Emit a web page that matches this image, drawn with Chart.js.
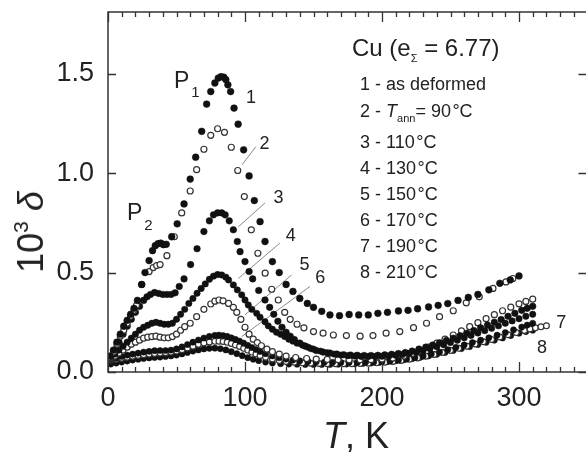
<!DOCTYPE html>
<html><head><meta charset="utf-8">
<script src="https://cdn.jsdelivr.net/npm/chart.js@4.4.0/dist/chart.umd.min.js"></script>
<style>
html,body{margin:0;padding:0;width:586px;height:452px;overflow:hidden;background:#fff;}
#wrap{position:relative;width:586px;height:452px;overflow:hidden;}
canvas{position:absolute;left:0;top:0;}
.t{position:absolute;font-family:"Liberation Sans",Arial,sans-serif;color:#222;white-space:nowrap;line-height:1;}
.lg{font-size:18px;left:360px;}
.sb{font-size:11px;position:relative;top:5px;}
.num{font-size:18px;}
</style></head><body>
<div id="wrap">
<canvas id="c" width="600" height="452" style="width:600px;height:452px"></canvas>
<div class="t" style="font-size:24px;left:352px;top:36.2px">Cu (e<span style="font-size:11px;position:relative;top:6px">Σ</span> = 6.77)</div>
<div class="t lg" style="top:75.2px">1 - as deformed</div>
<div class="t lg" style="top:102.2px">2 - <i>T</i><span class="sb">ann</span>= 90&#8202;°C</div>
<div class="t lg" style="top:133.2px">3 - 110&#8202;°C</div>
<div class="t lg" style="top:159.2px">4 - 130&#8202;°C</div>
<div class="t lg" style="top:185.2px">5 - 150&#8202;°C</div>
<div class="t lg" style="top:211.2px">6 - 170&#8202;°C</div>
<div class="t lg" style="top:237.2px">7 - 190&#8202;°C</div>
<div class="t lg" style="top:263.2px">8 - 210&#8202;°C</div>
<div class="t" style="font-size:23px;left:174px;top:68.7px">P<span style="font-size:15px;position:relative;top:9px;margin-left:2px">1</span></div>
<div class="t" style="font-size:23px;left:127px;top:201.2px">P<span style="font-size:15px;position:relative;top:10px;margin-left:2px">2</span></div>
<div class="t num" style="left:246px;top:88.2px">1</div>
<div class="t num" style="left:259.6px;top:133.9px">2</div>
<div class="t num" style="left:273.4px;top:187.9px">3</div>
<div class="t num" style="left:285.7px;top:225.5px">4</div>
<div class="t num" style="left:299.6px;top:254.5px">5</div>
<div class="t num" style="left:315.3px;top:267.9px">6</div>
<div class="t num" style="left:556.3px;top:312.9px">7</div>
<div class="t num" style="left:536.9px;top:337.9px">8</div>
<div class="t" style="font-size:36px;left:356px;top:436px;transform:translate(-50%,-50%)"><i>T</i>, K</div>
<div class="t" style="font-size:36px;left:31px;top:232px;transform:translate(-50%,-50%) rotate(-90deg)">10<span style="font-size:21px;position:relative;top:-15px">3</span> <i>δ</i></div>
</div>
<script>
// Temperature T (K) and 10^3 delta for curves 1..8
const t1 = [1.5,4,6.5,9,11.5,14,16.5,19,21.5,24.6,27,30,32.5,34.5,36.5,38.5,40.5,42.5,46.5,50.5,55.5,60,64,68.4,72,75,78,80.5,82.5,84.5,86,87.5,89.5,92,95,99,103,106.8,111,114.6,120,125,130,135,140,145.5,150,156,162,169,176,183,190,197,204,212,219,226,234,241,248,255.5,263,270,278,286,293.6,300];
const d1 = [0.08,0.11,0.15,0.19,0.23,0.26,0.29,0.32,0.36,0.44,0.50,0.56,0.61,0.635,0.645,0.648,0.64,0.642,0.68,0.745,0.845,0.97,1.08,1.21,1.347,1.41,1.453,1.478,1.485,1.482,1.47,1.444,1.41,1.327,1.246,1.117,0.986,0.862,0.756,0.656,0.555,0.50,0.44,0.405,0.37,0.345,0.325,0.305,0.287,0.283,0.289,0.287,0.287,0.295,0.30,0.307,0.31,0.318,0.327,0.335,0.344,0.36,0.375,0.39,0.413,0.446,0.463,0.483];

const t2 = [1.5,4,6.5,9,11.5,14,16.5,19,20.8,24.6,30,33,35.5,38,43,48.4,53.8,60,64.7,70,75,80,85,90,94.7,99.5,104.6,109.4,114.7,119.5,124.3,129,133,138,143,150,157,164.5,174,184,193.4,203,213,223,232.5,242,252,261.5,271,281,290.5,295.5];
const d2 = [0.075,0.1,0.14,0.18,0.21,0.245,0.28,0.31,0.335,0.44,0.505,0.525,0.535,0.54,0.585,0.68,0.80,0.91,1.017,1.12,1.19,1.223,1.205,1.13,1.013,0.882,0.715,0.597,0.497,0.416,0.362,0.30,0.265,0.24,0.222,0.203,0.195,0.186,0.183,0.18,0.183,0.195,0.203,0.223,0.245,0.278,0.308,0.348,0.378,0.42,0.453,0.47];

const t3 = [2,5,8,11,14,17,20,23,26,28.5,31,34,37,40,43,46,49,52,55.5,60.3,65,70,74,77,80,83,85.5,88.5,91.5,94.4,96.4,100,103,105.6,110,114.6,118,121,124,127,130,133,136,140,144,148,152,157,162,167,172,177,182,187,192,197,202,207,212,217,222,227,232,237,242,247,252,257,262,267,272,277,282,287,292,297,302,306,310];
const d3 = [0.08,0.11,0.15,0.19,0.23,0.265,0.30,0.33,0.36,0.378,0.39,0.40,0.395,0.39,0.39,0.39,0.398,0.43,0.468,0.54,0.62,0.706,0.76,0.79,0.80,0.80,0.79,0.76,0.715,0.656,0.605,0.555,0.505,0.468,0.41,0.362,0.325,0.29,0.255,0.225,0.20,0.18,0.163,0.145,0.13,0.118,0.108,0.10,0.095,0.09,0.087,0.085,0.084,0.083,0.083,0.084,0.086,0.089,0.093,0.098,0.105,0.115,0.125,0.135,0.147,0.158,0.17,0.182,0.195,0.208,0.222,0.236,0.25,0.264,0.28,0.295,0.31,0.32,0.33];

const t4 = [2,5,8,11,14,17,20,23,26,29,32,35,38,41,44,47,50,53,56,59,62,65,68,71,74,77,80,83,86,88,91.5,94.4,97.6,100,102.4,105,108.5,111,114.6,117,120,123,126,129,132,135,138,142,146,150,155,160,165,170,175,180,185,190,195,200,205,210,215,220,225,230,235,240,245,250,255,260,265,270,275,280,285,290,295,300,305,310];
const d4 = [0.075,0.09,0.11,0.13,0.15,0.17,0.19,0.21,0.225,0.235,0.245,0.25,0.245,0.24,0.24,0.245,0.265,0.29,0.315,0.345,0.37,0.396,0.42,0.443,0.466,0.482,0.49,0.488,0.477,0.463,0.438,0.413,0.388,0.362,0.337,0.315,0.295,0.275,0.253,0.232,0.215,0.2,0.19,0.178,0.165,0.155,0.145,0.135,0.125,0.115,0.105,0.097,0.09,0.085,0.082,0.08,0.078,0.078,0.078,0.079,0.081,0.084,0.088,0.094,0.1,0.108,0.117,0.127,0.137,0.148,0.16,0.172,0.184,0.196,0.208,0.22,0.232,0.245,0.257,0.268,0.28,0.29];

const t5 = [2,5,8,11,14,17,20,23,26,29,32,35,38,41,44,47,50,53,56,60,64.7,70,75,78,81,84,88,91.5,94,97,100,103,106,109,112,116,120,125,130,137,145,152,160,168,176,184,192,200,208,216,222,228,234,240,246,252,258,264,270,276,282,288,294,300,305,310];
const d5 = [0.07,0.08,0.095,0.11,0.125,0.14,0.15,0.16,0.17,0.175,0.178,0.18,0.175,0.172,0.172,0.178,0.19,0.21,0.228,0.245,0.278,0.315,0.342,0.356,0.362,0.358,0.345,0.325,0.3,0.265,0.225,0.19,0.165,0.148,0.132,0.115,0.102,0.09,0.08,0.073,0.068,0.065,0.063,0.062,0.061,0.061,0.062,0.065,0.07,0.08,0.093,0.108,0.125,0.145,0.165,0.186,0.207,0.228,0.248,0.268,0.288,0.308,0.326,0.343,0.355,0.366];

const t6 = [2,6,10,14,18,22,26,30,34,38,42,46,50,54,58,62,66,70,74,78,81,84,87,90,93,96,99,102,105,108,111,115,120,125,130,135,140,146,152,158,164,170,176,182,188,194,200,206,212,218,224,230,236,242,248,254,260,266,272,278,284,290,296,302,306,310];
const d6 = [0.065,0.07,0.078,0.085,0.09,0.095,0.1,0.104,0.107,0.108,0.108,0.11,0.116,0.126,0.138,0.15,0.161,0.171,0.179,0.184,0.185,0.183,0.179,0.172,0.164,0.155,0.145,0.134,0.123,0.113,0.103,0.092,0.081,0.072,0.065,0.06,0.056,0.053,0.051,0.05,0.049,0.048,0.048,0.048,0.049,0.05,0.052,0.055,0.059,0.065,0.072,0.08,0.09,0.1,0.112,0.124,0.136,0.148,0.16,0.172,0.185,0.198,0.212,0.226,0.236,0.245];

const t7 = [2,6,10,14,18,22,26,30,34,38,42,46,50,54,58,62,66,70,74,78,81,84,87,90,93,96,99,102,105,108,111,115,120,125,130,136,142,148,154,160,166,172,178,184,190,196,202,208,214,220,226,232,238,244,250,256,262,268,274,280,286,292,298,304,308,312,316,320];
const d7 = [0.06,0.064,0.069,0.074,0.079,0.083,0.087,0.09,0.093,0.095,0.097,0.1,0.105,0.112,0.121,0.13,0.139,0.146,0.151,0.154,0.155,0.153,0.149,0.143,0.136,0.128,0.119,0.11,0.1,0.091,0.083,0.074,0.065,0.058,0.053,0.049,0.046,0.044,0.043,0.042,0.042,0.042,0.042,0.043,0.044,0.046,0.049,0.053,0.058,0.064,0.071,0.079,0.088,0.098,0.108,0.119,0.13,0.141,0.152,0.164,0.176,0.187,0.198,0.209,0.216,0.222,0.227,0.232];

const t8 = [2,6,10,14,18,22,26,30,34,38,42,46,50,54,58,62,66,70,74,78,82,86,90,94,98,102,106,110,115,120,126,132,138,144,150,156,162,168,174,180,186,192,198,204,210,216,222,228,234,240,246,252,258,264,270,276,282,288,294,300,305,310];
const d8 = [0.04,0.045,0.05,0.055,0.06,0.064,0.068,0.071,0.073,0.075,0.078,0.081,0.085,0.091,0.098,0.105,0.111,0.116,0.119,0.12,0.117,0.111,0.102,0.092,0.082,0.072,0.064,0.057,0.05,0.045,0.042,0.04,0.039,0.038,0.038,0.038,0.038,0.039,0.04,0.041,0.043,0.045,0.048,0.052,0.056,0.061,0.067,0.074,0.081,0.089,0.098,0.108,0.118,0.128,0.138,0.149,0.16,0.171,0.183,0.195,0.203,0.21];

// leader lines from curve numbers 2..6 (T, 10^3 delta)
const leadT = [[97.9,108],[95.1,114.6],[95.1,125.5],[100,134],[97.6,147.4]];
const leadD = [[1.042,1.134],[0.73,0.85],[0.47,0.648],[0.287,0.488],[0.178,0.43]];

const xTicks = [0,100,200,300];
const yTicks = [0,0.5,1.0,1.5];

const FONT = '"Liberation Sans", Arial, sans-serif';
const pts = (t,d) => t.map((x,i)=>({x:x,y:d[i]}));
const filled = (t,d,r) => ({data:pts(t,d),showLine:false,pointRadius:r,pointHoverRadius:r,pointBackgroundColor:'#111',pointBorderColor:'#111',pointBorderWidth:0.5});
const open = (t,d,r) => ({data:pts(t,d),showLine:false,pointRadius:r,pointHoverRadius:r,pointBackgroundColor:'#fff',pointBorderColor:'#333',pointBorderWidth:1.2});

const datasets = [
  filled(t1,d1,3.4), open(t2,d2,3.0), filled(t3,d3,3.3), filled(t4,d4,3.2),
  open(t5,d5,3.0), filled(t6,d6,3.1), open(t7,d7,2.9), filled(t8,d8,3.1)
];
leadT.forEach((lt,i)=>{
  datasets.push({data:pts(lt,leadD[i]),showLine:true,borderColor:'#8a8a8a',borderWidth:1,pointRadius:0,fill:false});
});

const framePlugin = {
  id:'frame',
  afterDraw(chart){
    const ctx = chart.ctx, a = chart.chartArea, xs = chart.scales.x, ys = chart.scales.y;
    ctx.save();
    ctx.strokeStyle = '#333'; ctx.lineWidth = 1.5;
    ctx.strokeRect(a.left, a.top, a.right-a.left, a.bottom-a.top);
    ctx.lineWidth = 1.3;
    ctx.beginPath();
    for (let v=0; v<=350; v+=10){
      const px = Math.round(xs.getPixelForValue(v))+0.5;
      const L = (v%100===0) ? 10 : 5;
      ctx.moveTo(px,a.bottom); ctx.lineTo(px,a.bottom-L);
      ctx.moveTo(px,a.top); ctx.lineTo(px,a.top+L);
    }
    yTicks.forEach(v=>{
      const py = Math.round(ys.getPixelForValue(v))+0.5;
      ctx.moveTo(a.left,py); ctx.lineTo(a.left+8,py);
      ctx.moveTo(a.right,py); ctx.lineTo(a.right-9,py);
    });
    ctx.stroke();
    ctx.restore();
  }
};

new Chart(document.getElementById('c'), {
  type:'scatter',
  data:{datasets:datasets},
  options:{
    responsive:false, animation:false, devicePixelRatio:1,
    layout:{padding:{left:0,right:12.5,top:12,bottom:0}},
    plugins:{legend:{display:false},tooltip:{enabled:false}},
    scales:{
      x:{type:'linear',min:0,max:350,
        afterFit(s){s.height=80;s.paddingLeft=0;s.paddingRight=0;},
        afterBuildTicks(s){s.ticks = xTicks.map(v=>({value:v}));},
        ticks:{font:{family:FONT,size:27},color:'#222',padding:10,maxRotation:0,autoSkip:false,callback:v=>String(v)},
        grid:{display:false,drawTicks:false},border:{display:false}},
      y:{type:'linear',min:0,max:1.81,
        afterFit(s){s.width=108;s.paddingTop=0;s.paddingBottom=0;},
        afterBuildTicks(s){s.ticks = yTicks.map(v=>({value:v}));},
        ticks:{font:{family:FONT,size:27},color:'#222',padding:14,autoSkip:false,callback:v=>v.toFixed(1)},
        grid:{display:false,drawTicks:false},border:{display:false}}
    }
  },
  plugins:[framePlugin]
});
</script>
</body></html>
